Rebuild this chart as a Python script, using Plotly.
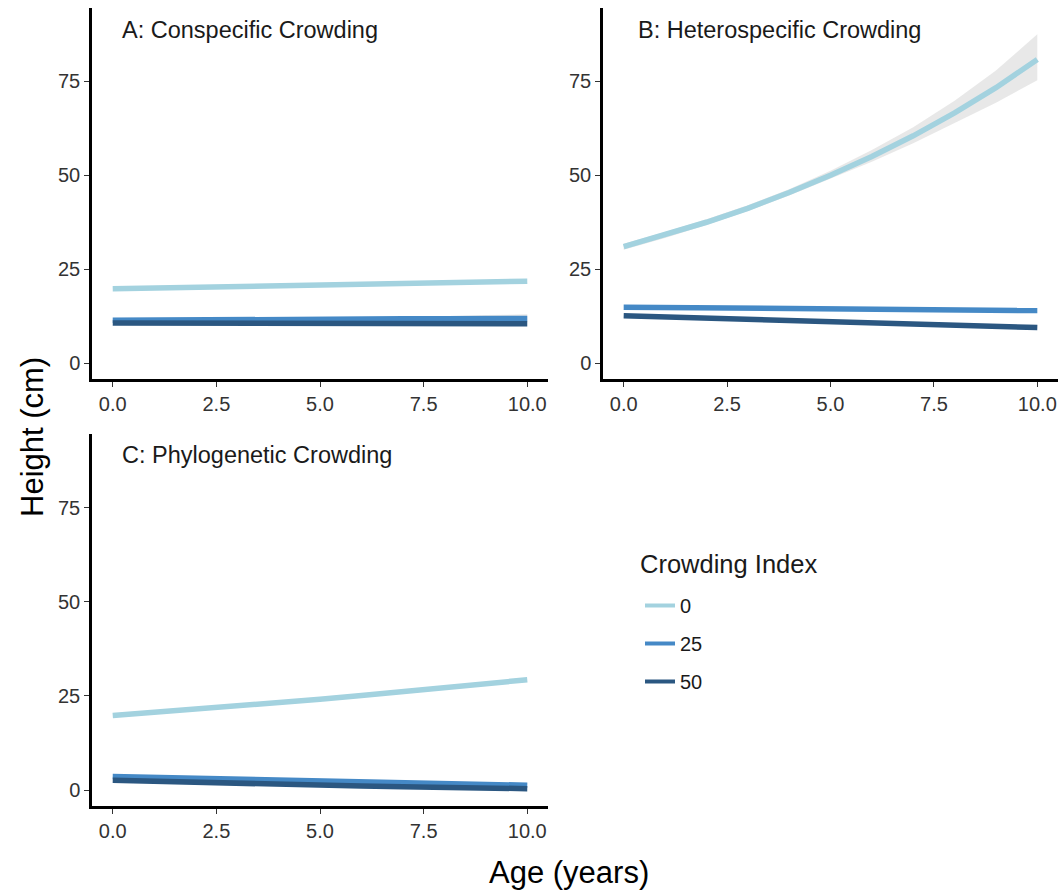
import plotly.graph_objects as go

age = [0, 1, 2, 3, 4, 5, 6, 7, 8, 9, 10]
crowding_levels = ["0", "25", "50"]

# Panel A: Conspecific crowding
a_ci0 = [19.8, 20.0, 20.2, 20.4, 20.6, 20.8, 21.0, 21.2, 21.4, 21.6, 21.8]
a_ci25 = [11.4, 11.5, 11.5, 11.6, 11.6, 11.7, 11.7, 11.8, 11.8, 11.9, 11.9]
a_ci50 = [10.7, 10.7, 10.7, 10.6, 10.6, 10.6, 10.6, 10.6, 10.5, 10.5, 10.5]
a_ci25_lo = [11.2, 11.3, 11.3, 11.3, 11.3, 11.3, 11.2, 11.2, 11.1, 11.0, 10.9]
a_ci25_hi = [11.6, 11.7, 11.7, 11.9, 11.9, 12.1, 12.2, 12.4, 12.5, 12.8, 13.0]

# Panel B: Heterospecific crowding
b_ci0 = [31.0, 34.1, 37.5, 41.2, 45.4, 50.0, 55.0, 60.5, 66.6, 73.3, 80.8]
b_ci0_lo = [30.2, 33.3, 36.8, 40.5, 44.6, 49.0, 53.6, 58.5, 63.8, 69.3, 75.3]
b_ci0_hi = [31.8, 34.9, 38.3, 42.0, 46.3, 51.2, 56.7, 62.8, 69.8, 77.9, 87.5]
b_ci25 = [14.9, 14.8, 14.7, 14.7, 14.6, 14.5, 14.4, 14.3, 14.2, 14.1, 14.0]
b_ci50 = [12.6, 12.3, 12.0, 11.7, 11.4, 11.1, 10.8, 10.5, 10.2, 9.9, 9.5]

# Panel C: Phylogenetic crowding
c_ci0 = [19.8, 20.6, 21.4, 22.3, 23.2, 24.1, 25.1, 26.1, 27.1, 28.2, 29.3]
c_ci25 = [3.6, 3.4, 3.1, 2.9, 2.6, 2.4, 2.1, 1.9, 1.7, 1.5, 1.3]
c_ci50 = [2.6, 2.3, 2.0, 1.8, 1.5, 1.3, 1.1, 0.9, 0.7, 0.5, 0.4]

panel_titles = ["A: Conspecific Crowding", "B: Heterospecific Crowding", "C: Phylogenetic Crowding"]
legend_title = "Crowding Index"
x_tickvals = [0, 2.5, 5, 7.5, 10]
x_ticktext = ["0.0", "2.5", "5.0", "7.5", "10.0"]
y_tickvals = [0, 25, 50, 75]
y_ticktext = ["0", "25", "50", "75"]

colors = {"0": "#a3d2df", "25": "#4589c6", "50": "#2b5781"}
ribbon = "rgba(150,150,150,0.22)"

W, H = 1061, 895
FONT = "Arial, Liberation Sans, sans-serif"

fig = go.Figure()

def px_x(a, b):
    return [a / W, b / W]

def px_y(top, bottom):
    return [1 - bottom / H, 1 - top / H]

panels = [
    ("x", "y", a_ci0, a_ci25, a_ci50),
    ("x2", "y2", b_ci0, b_ci25, b_ci50),
    ("x3", "y3", c_ci0, c_ci25, c_ci50),
]

def add_ribbon(xa, ya, lo, hi):
    fig.add_trace(go.Scatter(x=age, y=lo, xaxis=xa, yaxis=ya, mode="lines",
                             line=dict(width=0, color=ribbon), showlegend=False, hoverinfo="skip"))
    fig.add_trace(go.Scatter(x=age, y=hi, xaxis=xa, yaxis=ya, mode="lines", fill="tonexty",
                             fillcolor=ribbon, line=dict(width=0, color=ribbon),
                             showlegend=False, hoverinfo="skip"))

add_ribbon("x", "y", a_ci25_lo, a_ci25_hi)
add_ribbon("x2", "y2", b_ci0_lo, b_ci0_hi)

for xa, ya, s0, s25, s50 in panels:
    for lvl, s in zip(crowding_levels, [s0, s25, s50]):
        fig.add_trace(go.Scatter(x=age, y=s, xaxis=xa, yaxis=ya, mode="lines",
                                 line=dict(color=colors[lvl], width=5.5),
                                 showlegend=False, name=lvl))

# legend entries
for lvl in crowding_levels:
    fig.add_trace(go.Scatter(x=[None], y=[None], mode="lines", name=lvl,
                             line=dict(color=colors[lvl], width=4),
                             legendgroup=lvl, showlegend=True))

axis_common = dict(showline=True, linecolor="black", linewidth=2.5, showgrid=False,
                   zeroline=False, ticks="outside", ticklen=5, tickwidth=1.2,
                   tickcolor="#333333", tickfont=dict(family=FONT, size=20, color="#333333"))

doms = [
    (px_x(92, 548), px_y(8, 379)),
    (px_x(603, 1058), px_y(8, 379)),
    (px_x(92, 548), px_y(434, 806)),
]
layout_axes = {}
for i, (dx, dy) in enumerate(doms):
    sfx = "" if i == 0 else str(i + 1)
    layout_axes["xaxis" + sfx] = dict(axis_common, domain=dx, range=[-0.5, 10.5],
                                      tickvals=x_tickvals, ticktext=x_ticktext,
                                      anchor="y" + sfx)
    layout_axes["yaxis" + sfx] = dict(axis_common, domain=dy, range=[-4.2, 94.5],
                                      tickvals=y_tickvals, ticktext=y_ticktext,
                                      anchor="x" + sfx)

fig.update_layout(**layout_axes)

annotations = []
title_pos = [(120, 30), (636, 30), (120, 455)]
for t, (xp, yp) in zip(panel_titles, title_pos):
    annotations.append(dict(text=t, x=xp / W, y=1 - yp / H, xref="paper", yref="paper",
                            xanchor="left", yanchor="middle", showarrow=False,
                            font=dict(family=FONT, size=23.5, color="#1a1a1a")))
annotations.append(dict(text="Height (cm)", x=32 / W, y=1 - 437 / H, xref="paper", yref="paper",
                        textangle=-90, showarrow=False, xanchor="center", yanchor="middle",
                        font=dict(family=FONT, size=31, color="black")))
annotations.append(dict(text="Age (years)", x=569 / W, y=1 - 872 / H, xref="paper", yref="paper",
                        showarrow=False, xanchor="center", yanchor="middle",
                        font=dict(family=FONT, size=31, color="black")))
annotations.append(dict(text=legend_title, x=638 / W, y=1 - 564 / H, xref="paper", yref="paper",
                        showarrow=False, xanchor="left", yanchor="middle",
                        font=dict(family=FONT, size=25.5, color="#1a1a1a")))

fig.update_layout(
    width=W, height=H,
    margin=dict(l=0, r=0, t=0, b=0),
    paper_bgcolor="white", plot_bgcolor="white",
    annotations=annotations,
    legend=dict(x=640 / W, y=1 - 586 / H, xanchor="left", yanchor="top",
                font=dict(family=FONT, size=20, color="#1a1a1a"),
                tracegroupgap=9, bgcolor="rgba(0,0,0,0)"),
)

fig.write_html("out.html")
